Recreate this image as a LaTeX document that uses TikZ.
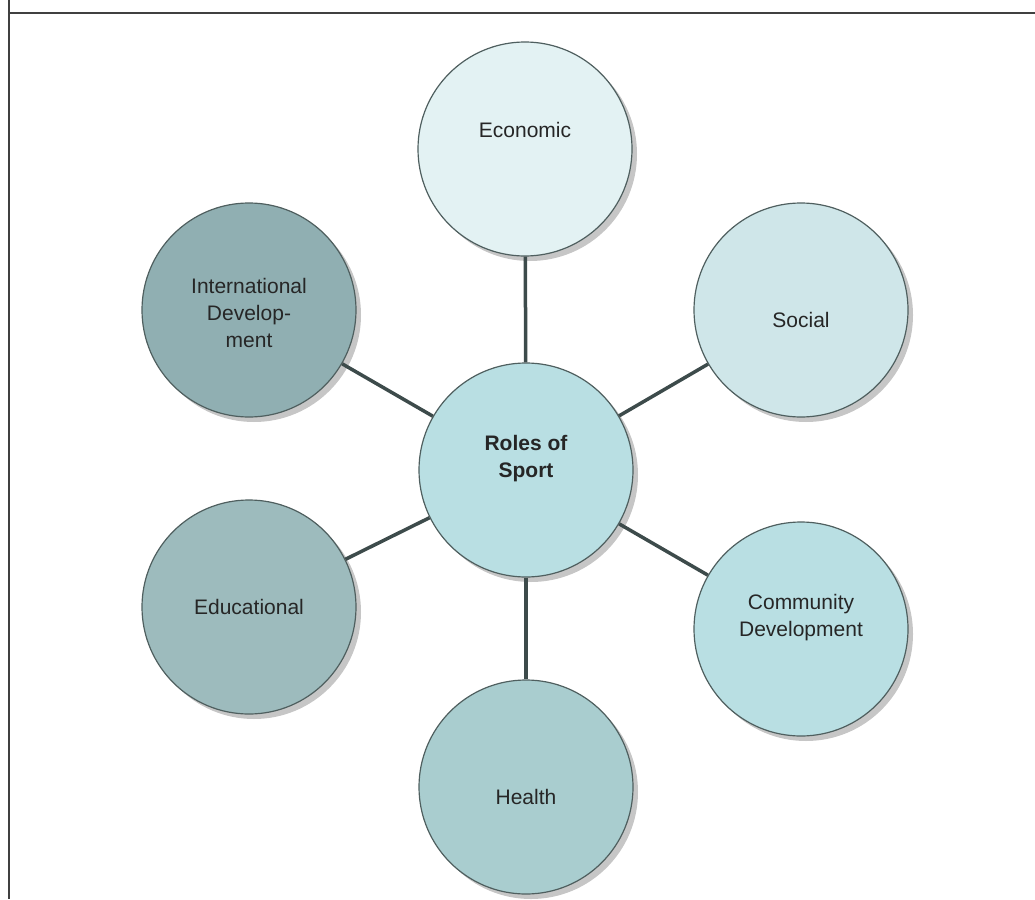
\documentclass[tikz,border=0pt]{standalone}
\usepackage{fontspec}
\setmainfont{Liberation Sans}
\usetikzlibrary{shadows}
\definecolor{edgegray}{HTML}{3D4B4B}
\definecolor{rimgray}{HTML}{4F5F5F}
\definecolor{econfill}{HTML}{E3F2F3}
\definecolor{socialfill}{HTML}{CFE6E9}
\definecolor{rolesfill}{HTML}{B9DFE3}
\definecolor{commfill}{HTML}{B9DFE3}
\definecolor{healthfill}{HTML}{A9CDCF}
\definecolor{edufill}{HTML}{9DBBBD}
\definecolor{intlfill}{HTML}{90AFB2}
\tikzset{
  bubble/.style = {circle, draw = rimgray, line width = 1.2pt, minimum size = 214pt, inner sep = 0pt,
    drop shadow = {shadow xshift = 5pt, shadow yshift = -5pt, fill = gray!45, opacity = 1}},
  lbl/.style = {align = center, font = \fontsize{21}{27}\selectfont, text = black!85},
  spoke/.style = {line width = 3.5pt, draw = edgegray}
}
\begin{document}
\begin{tikzpicture}[x = 1pt, y = -1pt]
				\useasboundingbox (0, 0) rectangle (1035, 899);
				% frame
				\draw[line width = 2pt, color = black!75] (9, 0) -- (9, 899);
				\draw[line width = 2pt, color = black!75] (9, 13) -- (1035, 13);
				% circles
				\node[bubble, fill = rolesfill] (roles) at (526, 470) {};
				\node[bubble, fill = econfill] (econ) at (525, 149) {};
				\node[bubble, fill = socialfill] (social) at (801, 310) {};
				\node[bubble, fill = commfill] (comm) at (801, 629) {};
				\node[bubble, fill = healthfill] (health) at (526, 787) {};
				\node[bubble, fill = edufill] (edu) at (249, 607) {};
				\node[bubble, fill = intlfill] (intl) at (249, 310) {};
				% spokes
				\foreach \other in {econ, social, comm, health, edu, intl}
					\draw[spoke] (roles) -- (\other);
				% labels
				\node[lbl, font = \fontsize{21}{27}\selectfont\bfseries] (roles-t) at (526, 459) {Roles of\\Sport};
				\node[lbl] (econ-t) at (525, 130) {Economic};
				\node[lbl] (social-t) at (801, 320) {Social};
				\node[lbl] (comm-t) at (801, 618) {Community\\Development};
				\node[lbl] (health-t) at (526, 797) {Health};
				\node[lbl] (edu-t) at (249, 607) {Educational};
				\node[lbl] (intl-t) at (249, 313) {International\\Develop-\\ment};
			\end{tikzpicture}
\end{document}
